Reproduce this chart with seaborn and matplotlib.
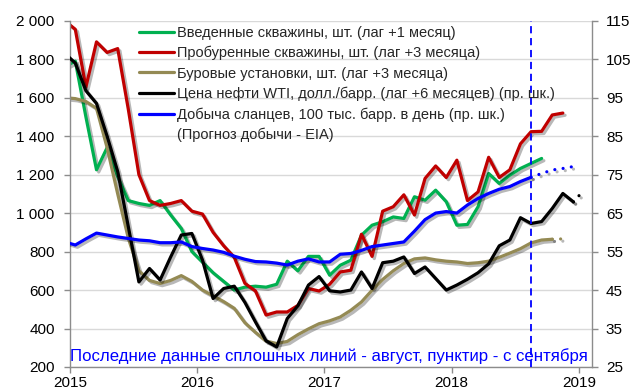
import matplotlib
matplotlib.use("Agg")
import matplotlib.pyplot as plt
import matplotlib.patheffects as pe
from matplotlib.lines import Line2D
import numpy as np
import pandas as pd
import seaborn as sns

sns.set_theme(style="white")
plt.rcParams["font.family"] = ["Liberation Sans", "DejaVu Sans"]

# Monthly values; the first value of each series belongs to Dec 2014 (month -1)
start_month = -1

completed_wells = [1760, 1790, 1500, 1225, 1340, 1190, 1065, 1050, 1040, 1065, 990, 920,
                   800, 745, 690, 645, 600, 615, 620, 615, 630, 750, 700, 775,
                   775, 677, 729, 755, 885, 937, 955, 980, 972, 1085, 1067, 1119,
                   1059, 937, 941, 1033, 1206, 1154, 1197, 1232, 1258, 1284]

drilled_wells = [2000, 1955, 1655, 1890, 1835, 1855, 1540, 1200, 1065, 1040, 1050, 1065,
                 1010, 995, 900, 830, 770, 635, 595, 470, 486, 486, 520, 608,
                 595, 630, 694, 703, 890, 775, 1010, 1033, 1095, 990, 1180, 1245,
                 1185, 1275, 1065, 1110, 1290, 1185, 1225, 1360, 1423, 1425, 1510, 1520]

rigs = [1600, 1595, 1580, 1545, 1340, 1100, 870, 700, 650, 634, 650, 675,
        645, 600, 570, 540, 505, 430, 380, 335, 322, 333, 368, 398,
        425, 440, 460, 495, 538, 599, 655, 700, 738, 762, 767, 757,
        750, 746, 738, 742, 750, 770, 792, 815, 845, 860, 864]
rigs_fc_start = 45
rigs_forecast = [864, 866]

wti = [106.5, 104.0, 96.8, 93.5, 85.0, 75.8, 61.5, 47.1, 50.6, 47.6, 53.6, 59.3,
       59.7, 52.8, 42.8, 45.4, 46.0, 41.8, 36.7, 31.8, 30.2, 37.6, 40.9, 46.3,
       48.5, 44.8, 44.5, 45.0, 49.7, 45.4, 52.1, 52.5, 53.6, 49.3, 51.0, 48.0,
       45.0, 46.3, 47.8, 49.5, 51.8, 56.5, 58.0, 63.8, 62.3, 62.8, 66.2, 70.1, 67.9]
wti_fc_start = 47
wti_forecast = [67.9, 71.0]

shale = [57.5, 56.7, 58.3, 59.8, 59.3, 58.8, 58.4, 58.0, 57.8, 57.3, 57.3, 57.5,
         56.3, 55.8, 55.4, 54.8, 53.8, 53.0, 52.4, 52.3, 52.0, 51.5, 52.5, 53.1,
         52.3, 52.3, 54.3, 54.5, 55.3, 56.3, 56.7, 57.1, 57.5, 60.3, 63.3, 65.0,
         65.4, 65.0, 67.1, 68.8, 70.1, 71.2, 71.9, 73.2, 74.3]
shale_fc_start = 43
shale_forecast = [74.3, 75.3, 76.2, 76.6, 77.1]

year_labels = ["2015", "2016", "2017", "2018", "2019"]
last_actual_month = 43  # August 2018

labels = [
    "Введенные скважины, шт. (лаг +1 месяц)",
    "Пробуренные скважины, шт. (лаг +3 месяца)",
    "Буровые установки, шт. (лаг +3 месяца)",
    "Цена нефти WTI, долл./барр. (лаг +6 месяцев) (пр. шк.)",
    "Добыча сланцев, 100 тыс. барр. в день (пр. шк.)",
    "(Прогноз добычи - EIA)",
]
note = "Последние данные сплошных линий - август, пунктир - с сентября"

c_green = "#00B050"
c_red = "#C00000"
c_tan = "#948A54"
c_black = "#000000"
c_blue = "#0000FF"


def frame(values, first):
    # points sit in the middle of each month
    return pd.DataFrame({"x": np.arange(first, first + len(values)) + 0.5,
                         "v": values})


shadow = [pe.SimpleLineShadow(offset=(1.6, -1.6), shadow_color="black", alpha=0.28),
          pe.Normal()]
LW = 2.3
dotted = (0, (0.01, 2.6))

fig = plt.figure(figsize=(6.34, 3.92), dpi=100)
ax = fig.add_axes([70 / 634, 1 - 367 / 392, 522 / 634, 346.3 / 392])
ax2 = ax.twinx()

# left axis series
sns.lineplot(data=frame(completed_wells, start_month), x="x", y="v", ax=ax,
             color=c_green, linewidth=LW, path_effects=shadow)
sns.lineplot(data=frame(drilled_wells, start_month), x="x", y="v", ax=ax,
             color=c_red, linewidth=LW, path_effects=shadow)
sns.lineplot(data=frame(rigs, start_month), x="x", y="v", ax=ax,
             color=c_tan, linewidth=LW, path_effects=shadow)
sns.lineplot(data=frame(rigs_forecast, rigs_fc_start), x="x", y="v", ax=ax,
             color=c_tan, linewidth=LW, linestyle=dotted, dash_capstyle="round",
             path_effects=shadow)

# right axis series
sns.lineplot(data=frame(wti, start_month), x="x", y="v", ax=ax2,
             color=c_black, linewidth=LW, path_effects=shadow)
sns.lineplot(data=frame(wti_forecast, wti_fc_start), x="x", y="v", ax=ax2,
             color=c_black, linewidth=LW, linestyle=dotted, dash_capstyle="round",
             path_effects=shadow)
sns.lineplot(data=frame(shale, start_month), x="x", y="v", ax=ax2,
             color=c_blue, linewidth=LW, path_effects=shadow)
sns.lineplot(data=frame(shale_forecast, shale_fc_start), x="x", y="v", ax=ax2,
             color=c_blue, linewidth=LW, linestyle=dotted, dash_capstyle="round",
             path_effects=shadow)

ax2.axvline(last_actual_month + 0.5, color=c_blue, linewidth=1.3,
            linestyle=(0, (4, 2.6)))

# axes, ticks and grid
ax.set_xlim(0, 49.25)
ax.set_ylim(200, 2000)
ax2.set_ylim(25, 115)
left_ticks = np.arange(200, 2001, 200)
ax.set_yticks(left_ticks)
ax.set_yticklabels([f"{t:,}".replace(",", " ") for t in left_ticks])
ax2.set_yticks(np.arange(25, 116, 10))
ax.set_xticks(np.arange(0, 49, 12))
ax.set_xticklabels(year_labels)
ax.set_xlabel("")
ax.set_ylabel("")
ax2.set_ylabel("")

ax.grid(axis="y", color="#D9D9D9", linewidth=1.0)
ax.grid(axis="x", visible=False)
ax2.grid(False)
ax.set_axisbelow(True)

for a in (ax, ax2):
    for side in ("left", "right", "bottom", "top"):
        a.spines[side].set_visible(False)
ax.spines["left"].set_visible(True)
ax.spines["bottom"].set_visible(True)
ax2.spines["right"].set_visible(True)
for sp in (ax.spines["left"], ax.spines["bottom"], ax2.spines["right"]):
    sp.set_color("#8C8C8C")
    sp.set_linewidth(1.0)

tick_fs = 11
ax.tick_params(axis="y", which="major", left=True, length=4, width=1.0,
               color="#8C8C8C", pad=7, labelsize=tick_fs, labelcolor="black")
ax.tick_params(axis="x", which="major", bottom=True, length=4, width=1.0,
               color="#8C8C8C", pad=2.5, labelsize=tick_fs, labelcolor="black")
ax2.tick_params(axis="y", which="major", right=True, length=4, width=1.0,
                color="#8C8C8C", pad=6, labelsize=tick_fs, labelcolor="black")

# legend without frame, gridlines show through it
handles = [Line2D([], [], color=c, linewidth=LW) for c in
           (c_green, c_red, c_tan, c_black, c_blue)]
handles.append(Line2D([], [], color="none"))
leg = ax2.legend(handles, labels, loc="upper left",
                 bbox_to_anchor=(0.133, 0.985), frameon=False,
                 fontsize=10.5, handlelength=2.4, handletextpad=0.2,
                 labelspacing=0.42, borderpad=0, borderaxespad=0)

ax.text(0.0, 0.032, note, transform=ax.transAxes, ha="left", va="center",
        color=c_blue, fontsize=12.1)

fig.savefig("out.png", dpi=100)
